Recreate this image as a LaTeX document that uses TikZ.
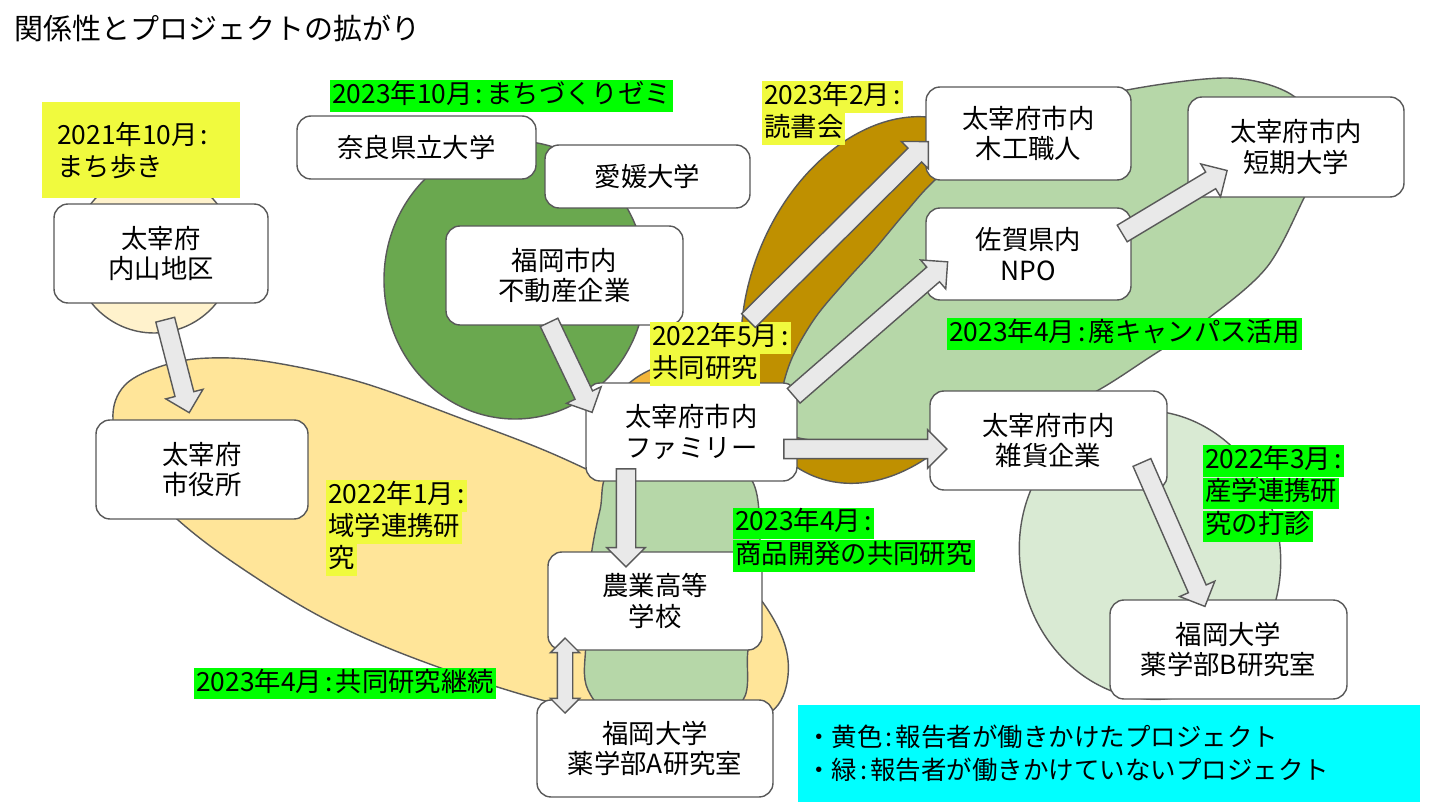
\documentclass[tikz,border=0pt]{standalone}
\usepackage{fontspec}
\setmainfont{Noto Sans CJK JP}
\usetikzlibrary{calc,shapes.arrows}
\definecolor{bord}{HTML}{595959}
\definecolor{agray}{HTML}{E9E9E9}
\definecolor{yel}{HTML}{F0FA3E}
\definecolor{grn}{HTML}{00FF00}
\definecolor{cyn}{HTML}{00FFFF}
\definecolor{peach}{HTML}{FFF2CC}
\definecolor{lorange}{HTML}{FFE599}
\definecolor{gold}{HTML}{F2B53A}
\definecolor{dgreen}{HTML}{6AA84F}
\definecolor{lgreen}{HTML}{B6D7A8}
\definecolor{pgreen}{HTML}{D9EAD3}
\definecolor{ochre}{HTML}{BF9000}
\newcommand\nf{\fontsize{15}{17.5}\selectfont}
\newcommand\lf{\fontsize{15}{18}\selectfont}
\newcommand\gf{\fontsize{14.5}{18}\selectfont}
\newcommand\cln{\hspace{0.12em}:\hspace{0.12em}}
\newcommand\blockarrow[4]{%
  \path let \p1=(#3), \p2=(#4), \n1={atan2(\y2-\y1,\x2-\x1)}, \n2={veclen(\x2-\x1,\y2-\y1)} in
  node[#2, minimum height=\n2, rotate=\n1] (#1) at ($(#3)!0.5!(#4)$) {};}
\tikzset{
  blob/.style={draw=bord, line width=0.8pt},
  box/.style={draw=bord, fill=white, line width=0.8pt, rounded corners=0.28cm, align=center, font=\nf, inner sep=0pt},
  lab/.style={anchor=west, inner xsep=0.04cm, inner ysep=0pt, text height=0.47cm, text depth=0.17cm, font=\lf},
  barrow/.style={single arrow, draw=bord, fill=agray, line width=0.8pt, inner xsep=0pt, inner ysep=0.18cm,
    minimum width=0.74cm, single arrow head extend=0.19cm, single arrow head indent=0pt},
  darrow/.style={double arrow, draw=bord, fill=agray, line width=0.8pt, inner xsep=0pt, inner ysep=0.14cm,
    minimum width=0.56cm, double arrow head extend=0.14cm, double arrow head indent=0pt}
}
\begin{document}
\begin{tikzpicture}[x=0.02cm,y=-0.02cm]
\fill[white] (0,0) rectangle (1440,810);
\useasboundingbox (0,0) rectangle (1440,810);

% ---- background blobs ----
\draw[blob, fill=peach] (154,253) circle [radius=80];
\draw[blob, fill=lorange] plot[smooth cycle, tension=0.6] coordinates {
  (113,420) (125,385) (165,365) (210,358) (270,362) (360,382) (460,418) (560,457)
  (650,503) (720,555) (768,610) (788,660) (778,705) (740,722) (660,722) (553,703)
  (427,663) (327,620) (240,567) (178,520) (130,470)};
\draw[blob, fill=gold] (698,425) ellipse [x radius=90, y radius=65];
\draw[blob, fill=lgreen] plot[smooth cycle, tension=0.6] coordinates {
  (612,470) (680,455) (748,475) (760,540) (757,600) (748,650) (743,700) (700,722)
  (625,722) (588,690) (586,640) (590,565) (600,510)};
\draw[blob, fill=dgreen] (515,280) ellipse [x radius=131, y radius=139];
\draw[blob, fill=ochre, rotate around={68:(885,300)}] (885,300) ellipse [x radius=190, y radius=135];
\draw[blob, fill=lgreen] plot[smooth cycle, tension=0.55] coordinates {
  (779,428) (781,395) (792,358) (815,318) (845,282) (874,250) (905,213) (935,180)
  (980,145) (1050,112) (1127,90) (1227,78) (1287,92) (1318,125) (1318,165) (1303,200)
  (1267,267) (1210,317) (1150,357) (1095,392) (1030,422) (950,440) (880,443) (810,440)};
\draw[blob, fill=pgreen, rotate around={12:(1150,555)}] (1150,555) ellipse [x radius=130, y radius=145];

% ---- title ----
\node[anchor=west, inner sep=0pt, font=\fontsize{16.5}{20}\selectfont] (title) at (14,28) {関係性とプロジェクトの拡がり};

% ---- boxes ----
\node[box, minimum width=4.28cm, minimum height=1.98cm] (uchi) at (161,253.5) {太宰府\\内山地区};
\node[box, minimum width=4.24cm, minimum height=1.98cm] (city) at (202,469.5) {太宰府\\市役所};
\node[box, minimum width=4.78cm, minimum height=1.26cm] (nara) at (416.5,147.5) {奈良県立大学};
\node[box, minimum width=4.10cm, minimum height=1.26cm] (ehime) at (647.5,176.5) {愛媛大学};
\node[box, minimum width=4.74cm, minimum height=1.98cm] (fudo) at (564.5,275.5) {福岡市内\\不動産企業};
\node[box, minimum width=4.10cm, minimum height=1.86cm] (mokko) at (1028.5,133.5) {太宰府市内\\木工職人};
\node[box, minimum width=4.10cm, minimum height=1.84cm] (npo) at (1028.5,254) {佐賀県内\\NPO};
\node[box, minimum width=4.32cm, minimum height=2.00cm] (tanki) at (1296,147) {太宰府市内\\短期大学};
\node[box, minimum width=4.22cm, minimum height=1.96cm] (fam) at (691.5,432) {太宰府市内\\ファミリー};
\node[box, minimum width=4.74cm, minimum height=1.98cm] (zakka) at (1048.5,440.5) {太宰府市内\\雑貨企業};
\node[box, minimum width=4.28cm, minimum height=1.96cm] (noko) at (655,601) {農業高等\\学校};
\node[box, minimum width=4.72cm, minimum height=1.94cm] (yakuA) at (655,748.5) {福岡大学\\薬学部A研究室};
\node[box, minimum width=4.74cm, minimum height=1.98cm] (yakuB) at (1228.5,649.5) {福岡大学\\薬学部B研究室};

% ---- labels ----
\node[fill=yel, anchor=north west, minimum width=3.96cm, minimum height=1.92cm, text width=3.36cm,
  inner xsep=0.3cm, inner ysep=0pt, align=left, font=\lf] (lb0) at (42,102) {2021年10月\cln\\まち歩き};
\node[lab, fill=grn] (lb1) at (330,96.5) {2023年10月\cln まちづくりゼミ};
\node[lab, fill=yel] (lb2a) at (762,97.5) {2023年2月\cln};
\node[lab, fill=yel] (lb2b) at (762,129) {読書会};
\node[lab, fill=yel] (lb3a) at (650,338) {2022年5月\cln};
\node[lab, fill=yel] (lb3b) at (650,370) {共同研究};
\node[lab, fill=grn] (lb4) at (947,334) {2023年4月\cln 廃キャンパス活用};
\node[lab, fill=yel] (lb5a) at (326,496) {2022年1月\cln};
\node[lab, fill=yel] (lb5b) at (326,528) {域学連携研};
\node[lab, fill=yel] (lb5c) at (326,560) {究};
\node[lab, fill=grn] (lb6a) at (1203,461) {2022年3月\cln};
\node[lab, fill=grn] (lb6b) at (1203,493.5) {産学連携研};
\node[lab, fill=grn] (lb6c) at (1203,526.5) {究の打診};
\node[lab, fill=grn] (lb7a) at (733,523.5) {2023年4月\cln};
\node[lab, fill=grn] (lb7b) at (733,556) {商品開発の共同研究};
\node[lab, fill=grn] (lb8) at (194,683.5) {2023年4月\cln 共同研究継続};

% ---- legend ----
\fill[cyn] (798,705) rectangle (1420,802);
\node[anchor=west, inner sep=0pt, font=\gf] (lg1) at (806,737) {・黄色\cln 報告者が働きかけたプロジェクト};
\node[anchor=west, inner sep=0pt, font=\gf] (lg2) at (806,770) {・緑\cln 報告者が働きかけていないプロジェクト};

% ---- arrows ----
\coordinate (a1s) at (164,315); \coordinate (a1e) at (188,408);
\coordinate (a2s) at (547,318); \coordinate (a2e) at (590,408);
\coordinate (a3s) at (745,324); \coordinate (a3e) at (925,145);
\coordinate (a4s) at (790,399); \coordinate (a4e) at (944,265);
\coordinate (a5s) at (1118,236); \coordinate (a5e) at (1223,173);
\coordinate (a6s) at (779,449); \coordinate (a6e) at (942,449);
\coordinate (a7s) at (626,464); \coordinate (a7e) at (626,562);
\coordinate (a8s) at (1140,458); \coordinate (a8e) at (1203,602);
\coordinate (a9s) at (565,638); \coordinate (a9e) at (565,713);
\blockarrow{ar1}{barrow}{a1s}{a1e}
\blockarrow{ar2}{barrow}{a2s}{a2e}
\blockarrow{ar3}{barrow}{a3s}{a3e}
\blockarrow{ar4}{barrow}{a4s}{a4e}
\blockarrow{ar5}{barrow}{a5s}{a5e}
\blockarrow{ar6}{barrow}{a6s}{a6e}
\blockarrow{ar7}{barrow}{a7s}{a7e}
\blockarrow{ar8}{barrow}{a8s}{a8e}
\blockarrow{ar9}{darrow}{a9s}{a9e}
\end{tikzpicture}
\end{document}
